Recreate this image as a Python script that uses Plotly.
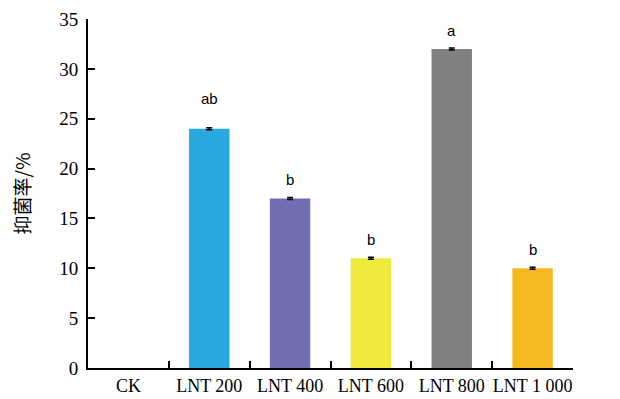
import plotly.graph_objects as go

categories = ["CK", "LNT 200", "LNT 400", "LNT 600", "LNT 800", "LNT 1 000"]
values = [0, 24, 17, 11, 32, 10]
errors = [0, 0.1, 0.1, 0.1, 0.1, 0.1]
letters = ["", "ab", "b", "b", "a", "b"]
colors = ["#FFFFFF", "#29A8E0", "#716DB2", "#EEEA3C", "#808080", "#F5B820"]
label_shift = [0, 20, 8, 8, 8, 8]

fig = go.Figure()
fig.add_trace(go.Bar(
    x=categories, y=values,
    marker=dict(color=colors, line=dict(width=0)),
    width=0.5,
    showlegend=False,
))

# error bars only where an error exists
eb_x = [c for c, e in zip(categories, errors) if e]
eb_y = [v for v, e in zip(values, errors) if e]
eb_e = [e for e in errors if e]
fig.add_trace(go.Scatter(
    x=eb_x, y=eb_y, mode="markers", marker=dict(size=0.1, opacity=0),
    error_y=dict(type="data", array=eb_e, color="black", thickness=1.5, width=3),
    showlegend=False, hoverinfo="skip",
))

for c, v, t, s in zip(categories, values, letters, label_shift):
    if t:
        fig.add_annotation(x=c, y=v, text=t, showarrow=False, yanchor="bottom",
                           yshift=s, font=dict(family="Liberation Sans, Arial", size=15,
                                               color="black"))

fig.update_layout(
    width=612, height=391,
    margin=dict(l=80, r=47, t=11, b=31, autoexpand=False),
    plot_bgcolor="white", paper_bgcolor="white",
    font=dict(family="Liberation Serif, Times New Roman, serif", size=17, color="black"),
    bargap=0.5,
)
fig.update_xaxes(
    showline=True, linecolor="black", linewidth=2,
    ticks="inside", tickson="boundaries", ticklen=7, tickwidth=1.5, tickcolor="black",
    showgrid=False, zeroline=False, range=[-0.5, 5.5],
    tickfont=dict(size=18), tickangle=0, automargin=False,
)
fig.update_yaxes(
    range=[0, 35], dtick=5, showline=True, linecolor="black", linewidth=2,
    ticks="inside", ticklen=7, tickwidth=1.5, tickcolor="black",
    showgrid=False, zeroline=False, automargin=False, ticklabelstandoff=4,
    title=dict(text="抑菌率/%", font=dict(family="Noto Sans CJK SC", size=19), standoff=27),
    tickfont=dict(size=19),
)

fig.write_html("out.html")
